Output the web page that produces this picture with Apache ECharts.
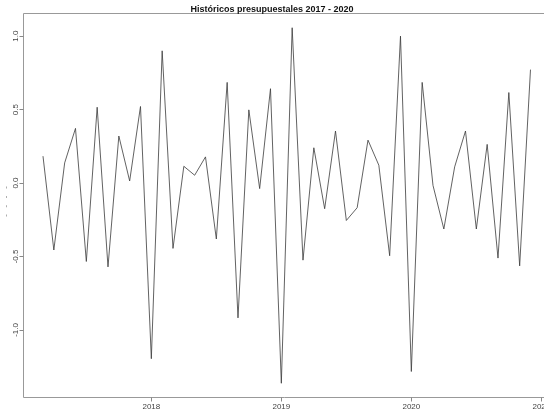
<!DOCTYPE html>
<html>
<head>
<meta charset="utf-8">
<script src="https://cdn.jsdelivr.net/npm/echarts@6/dist/echarts.min.js"></script>
<style>html,body{margin:0;padding:0;background:#fff}#c{width:544px;height:415px}</style>
</head>
<body>
<div id="c"></div>
<script>
// Monthly series, March 2017 to December 2020
const startYear = 2017;
const startMonth = 3; // March
const values = [0.183, -0.456, 0.137, 0.372, -0.534, 0.516, -0.571, 0.32, 0.014, 0.521,
  -1.196, 0.9, -0.445, 0.114, 0.053, 0.178, -0.381, 0.685, -0.918, 0.498, -0.038, 0.642,
  -1.363, 1.057, -0.525, 0.24, -0.175, 0.354, -0.255, -0.168, 0.292, 0.121, -0.495, 1.0,
  -1.283, 0.685, -0.016, -0.313, 0.11, 0.354, -0.313, 0.263, -0.511, 0.616, -0.564, 0.772];
const xTicks = [2018, 2019, 2020, 2021];
const yTicks = [-1.0, -0.5, 0.0, 0.5, 1.0];
const titleText = 'Históricos presupuestales 2017 - 2020';
const yName = '-   -   -   -';

const seriesData = values.map((v, i) => [startYear + (startMonth - 1 + i) / 12, v]);

const chart = echarts.init(document.getElementById('c'), null, {renderer: 'canvas'});
chart.setOption({
  animation: false,
  backgroundColor: '#fff',
  title: {
    text: titleText, left: 'center', top: 0,
    textStyle: {fontFamily: 'Liberation Sans', fontSize: 9, fontWeight: 'bold', color: '#111'}
  },
  grid: {left: 23.5, top: 13.5, right: -6, bottom: 17.5, outerBoundsMode: 'none', containLabel: false,
    show: true, borderColor: '#999', borderWidth: 1, backgroundColor: 'transparent'},
  xAxis: {
    type: 'value', min: 2017.0167, max: 2021.0667,
    splitLine: {show: false}, axisLine: {show: false, onZero: false},
    axisTick: {show: true, length: 4, lineStyle: {color: '#888'}, customValues: xTicks},
    axisLabel: {customValues: xTicks, fontFamily: 'Liberation Sans', fontSize: 8, color: '#444', margin: 5,
      formatter: v => String(Math.round(v))}
  },
  yAxis: {
    type: 'value', min: -1.46, max: 1.154,
    name: yName, nameLocation: 'middle', nameRotate: 90, nameGap: 14, nameMoveOverlap: false,
    nameTextStyle: {fontFamily: 'Liberation Sans', fontSize: 8, color: '#777', padding: [0, 0, 0, 8]},
    splitLine: {show: false}, axisLine: {show: false, onZero: false},
    axisTick: {show: true, length: 4, lineStyle: {color: '#888'}, customValues: yTicks},
    axisLabel: {customValues: yTicks, rotate: 90, fontFamily: 'Liberation Sans', fontSize: 8, color: '#444', margin: 4,
      formatter: v => v.toFixed(1)}
  },
  series: [{
    type: 'line', data: seriesData, showSymbol: false, symbol: 'none',
    lineStyle: {color: '#3a3a3a', width: 0.8}, clip: false
  }]
});
</script>
</body>
</html>
